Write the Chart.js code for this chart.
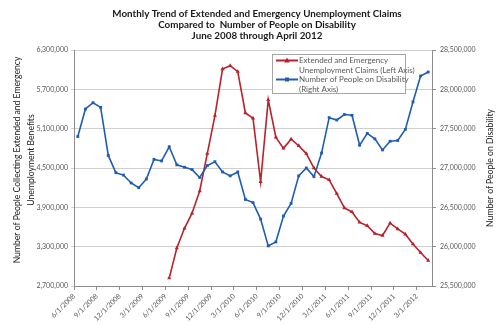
<!DOCTYPE html>
<html>
<head>
<meta charset="utf-8">
<script src="https://cdn.jsdelivr.net/npm/chart.js@4.4.1/dist/chart.umd.min.js"></script>
<style>
  html, body { margin: 0; padding: 0; background: #fff; }
</style>
</head>
<body>
<canvas id="chart" width="500" height="325"></canvas>
<script>
const months = [
  '6/1/2008', '7/1/2008', '8/1/2008', '9/1/2008', '10/1/2008', '11/1/2008', '12/1/2008',
  '1/1/2009', '2/1/2009', '3/1/2009', '4/1/2009', '5/1/2009', '6/1/2009', '7/1/2009',
  '8/1/2009', '9/1/2009', '10/1/2009', '11/1/2009', '12/1/2009', '1/1/2010', '2/1/2010',
  '3/1/2010', '4/1/2010', '5/1/2010', '6/1/2010', '7/1/2010', '8/1/2010', '9/1/2010',
  '10/1/2010', '11/1/2010', '12/1/2010', '1/1/2011', '2/1/2011', '3/1/2011', '4/1/2011',
  '5/1/2011', '6/1/2011', '7/1/2011', '8/1/2011', '9/1/2011', '10/1/2011', '11/1/2011',
  '12/1/2011', '1/1/2012', '2/1/2012', '3/1/2012', '4/1/2012'
];

// left axis: extended + emergency claims (starts 6/2009)
const claims = [
  null, null, null, null, null, null, null, null, null, null, null, null,
  2820000, 3280000, 3580000, 3810000, 4150000, 4720000, 5300000, 6010000, 6060000, 5970000,
  5340000, 5260000, 4290000, 5540000, 4970000, 4800000, 4940000, 4840000, 4720000, 4500000,
  4370000, 4320000, 4110000, 3890000, 3830000, 3670000, 3620000, 3500000, 3470000, 3660000,
  3570000, 3490000, 3340000, 3210000, 3090000
];

// right axis: people on disability
const disability = [
  27400000, 27750000, 27830000, 27770000, 27160000, 26940000, 26910000, 26810000, 26750000, 26860000,
  27110000, 27090000, 27270000, 27040000, 27010000, 26980000, 26880000, 27030000, 27080000, 26950000,
  26900000, 26950000, 26600000, 26560000, 26350000, 26010000, 26060000, 26390000, 26550000, 26900000,
  27000000, 26890000, 27190000, 27640000, 27610000, 27680000, 27670000, 27290000, 27440000, 27370000,
  27230000, 27340000, 27350000, 27490000, 27840000, 28170000, 28220000
];

const titleLines = [
  'Monthly Trend of Extended and Emergency Unemployment Claims',
  'Compared to  Number of People on Disability',
  'June 2008 through April 2012'
];
const leftTitle = ['Number of People Collecting Extended and Emergency', 'Unemployment Benefits'];
const rightTitle = ['Number of People on Disability'];
const legendText = [
  ['Extended and Emergency', 'Unemployment Claims (Left Axis)'],
  ['Number of People on Disability', '(Right Axis)']
];

const RED = '#B8232B';
const BLUE = '#1F5CB4';
const GRID = '#CFCFCF';
const AXIS = '#8C8C8C';
const TICK_TXT = '#595959';
const TEXT = '#1a1a1a';

Chart.defaults.font.family = 'Lato, "Open Sans", sans-serif';

const fmt = v => Number(v).toLocaleString('en-US');

// chart title + both axis titles (right one reads bottom-to-top like Excel)
const textPlugin = {
  id: 'chartTexts',
  afterDraw(chart) {
    const ctx = chart.ctx;
    ctx.save();
    ctx.fillStyle = TEXT;
    ctx.textAlign = 'center';
    ctx.textBaseline = 'middle';
    ctx.font = 'bold 9.8px Lato';
    titleLines.forEach((t, i) => ctx.fillText(t, 257, 14 + i * 11));

    ctx.font = '8.6px Lato';
    const vtext = (lines, cx, cy) => {
      ctx.save();
      ctx.translate(cx, cy);
      ctx.rotate(-Math.PI / 2);
      lines.forEach((t, i) => ctx.fillText(t, 0, i * 14));
      ctx.restore();
    };
    vtext(leftTitle, 17, 160);
    vtext(rightTitle, 490, 168);
    ctx.restore();
  }
};

const legendPlugin = {
  id: 'legendBox',
  afterDatasetsDraw(chart) {
    const ctx = chart.ctx;
    const x = 272, y = 54, w = 133, h = 39;
    ctx.save();
    ctx.fillStyle = '#fff';
    ctx.fillRect(x, y, w, h);
    ctx.strokeStyle = '#A6A6A6';
    ctx.lineWidth = 1;
    ctx.strokeRect(x + 0.5, y + 0.5, w, h);
    ctx.font = '8px Lato';
    ctx.textBaseline = 'middle';
    chart.data.datasets.forEach((ds, i) => {
      const ly = y + 6.5 + i * 19;
      ctx.strokeStyle = ds.borderColor;
      ctx.lineWidth = 2;
      ctx.beginPath();
      ctx.moveTo(x + 4, ly);
      ctx.lineTo(x + 26, ly);
      ctx.stroke();
      ctx.fillStyle = ds.borderColor;
      const mx = x + 15;
      ctx.beginPath();
      if (ds.pointStyle === 'triangle') {
        ctx.moveTo(mx, ly - 3);
        ctx.lineTo(mx + 2.8, ly + 2);
        ctx.lineTo(mx - 2.8, ly + 2);
      } else {
        ctx.rect(mx - 2, ly - 2, 4, 4);
      }
      ctx.fill();
      ctx.fillStyle = TICK_TXT;
      legendText[i].forEach((t, j) => ctx.fillText(t, x + 27, ly + j * 9.5));
    });
    ctx.restore();
  }
};

new Chart(document.getElementById('chart'), {
  type: 'line',
  data: {
    labels: months,
    datasets: [
      {
        label: legendText[0].join(' '),
        data: claims,
        yAxisID: 'y',
        borderColor: RED,
        backgroundColor: RED,
        borderWidth: 1.6,
        pointStyle: 'triangle',
        pointRadius: 2.4,
        pointBorderWidth: 0,
        tension: 0,
        order: 2
      },
      {
        label: legendText[1].join(' '),
        data: disability,
        yAxisID: 'y2',
        borderColor: BLUE,
        backgroundColor: BLUE,
        borderWidth: 1.6,
        pointStyle: 'rect',
        pointRadius: 2,
        pointBorderWidth: 0,
        tension: 0,
        order: 1
      }
    ]
  },
  options: {
    responsive: false,
    animation: false,
    layout: { padding: { top: 50, left: 0, right: 0, bottom: 0 } },
    plugins: {
      legend: { display: false },
      title: { display: false },
      tooltip: { enabled: false }
    },
    scales: {
      x: {
        offset: true,
        afterFit: s => { s.height = 39; },
        grid: {
          offset: true,
          drawOnChartArea: false,
          tickLength: 4,
          color: c => (c.index % 3 === 0 ? AXIS : 'rgba(0,0,0,0)')
        },
        border: { color: AXIS },
        ticks: {
          autoSkip: false,
          minRotation: 45,
          maxRotation: 45,
          padding: 2,
          labelOffset: -3.8,
          color: TICK_TXT,
          font: { size: 7 },
          callback: (v, i) => (i % 3 === 0 ? months[i] : '')
        }
      },
      y: {
        position: 'left',
        min: 2700000,
        max: 6300000,
        afterFit: s => { s.width = 74; },
        grid: { color: GRID, tickLength: 3 },
        border: { color: AXIS },
        ticks: {
          stepSize: 600000,
          padding: 3,
          color: TICK_TXT,
          font: { size: 7 },
          callback: fmt
        }
      },
      y2: {
        position: 'right',
        min: 25500000,
        max: 28500000,
        afterFit: s => { s.width = 68; },
        grid: { drawOnChartArea: false, color: AXIS, tickLength: 4 },
        border: { color: AXIS },
        ticks: {
          stepSize: 500000,
          padding: 4,
          color: TICK_TXT,
          font: { size: 7 },
          callback: fmt
        }
      }
    }
  },
  plugins: [textPlugin, legendPlugin]
});
</script>
</body>
</html>
